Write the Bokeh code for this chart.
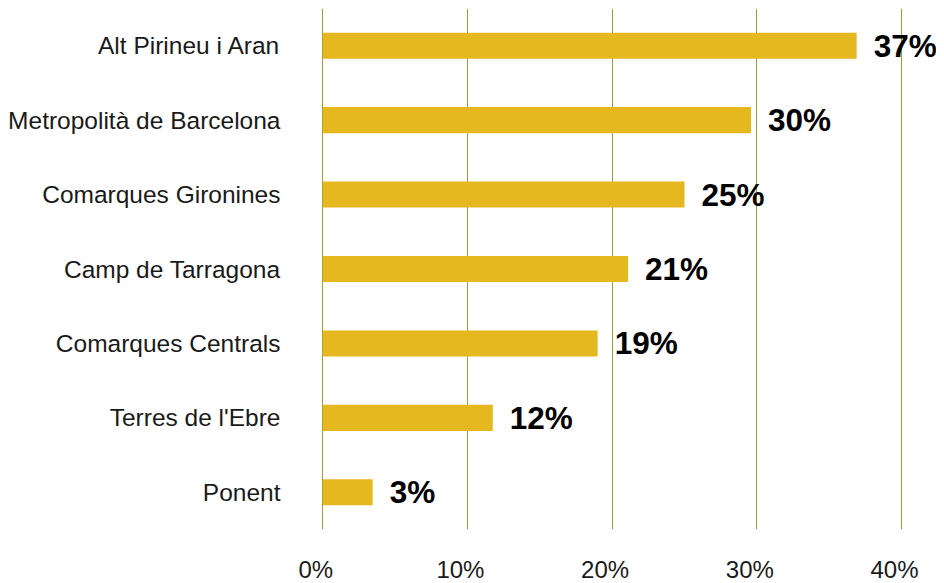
from bokeh.plotting import figure
from bokeh.models import ColumnDataSource, FactorRange, Range1d, LinearAxis, FixedTicker
from bokeh.core.properties import value
from bokeh.embed import file_html
from bokeh.resources import INLINE

regions = ["Alt Pirineu i Aran", "Metropolità de Barcelona", "Comarques Gironines",
           "Camp de Tarragona", "Comarques Centrals", "Terres de l'Ebre", "Ponent"]
values = [36.9, 29.6, 25.0, 21.1, 19.0, 11.75, 3.45]
labels = ["37%", "30%", "25%", "21%", "19%", "12%", "3%"]
ticks = [0, 10, 20, 30, 40]
tick_labels = ["0%", "10%", "20%", "30%", "40%"]

FONT = "Liberation Sans"
PX_PER_UNIT = 14.47
X_START = -0.5
FRAME_LEFT = 322 + X_START * PX_PER_UNIT
BORDER_LEFT = int(round(FRAME_LEFT))
FRAME_W = 936 - BORDER_LEFT
X_END = X_START + FRAME_W / PX_PER_UNIT
SHIFT = 7 / PX_PER_UNIT

src = ColumnDataSource(dict(region=regions, val=values, lab=labels))

p = figure(y_range=FactorRange(factors=list(reversed(regions))),
           x_range=Range1d(X_START, X_END),
           frame_width=FRAME_W, frame_height=521,
           min_border_left=BORDER_LEFT, min_border_right=0, min_border_top=8,
           output_backend="svg", toolbar_location=None)

p.hbar(y="region", right="val", left=0, height=0.35, source=src,
       fill_color="#E6B820", line_color=None)

p.text(x="val", y="region", text="lab", source=src, x_offset=17,
       text_baseline="middle", text_align="left",
       text_font=value(FONT), text_font_style="bold", text_font_size="31.5px",
       text_color="#000000")

p.outline_line_color = None
p.background_fill_color = "white"
p.border_fill_color = "white"

p.xaxis.visible = False
p.xgrid.ticker = FixedTicker(ticks=ticks)
p.xgrid.grid_line_color = "#a29c35"
p.xgrid.grid_line_width = 1
p.ygrid.grid_line_color = None

p.extra_x_ranges = {"lab": Range1d(X_START + SHIFT, X_END + SHIFT)}
ax = LinearAxis(x_range_name="lab", ticker=FixedTicker(ticks=ticks),
                major_label_overrides={t: l for t, l in zip(ticks, tick_labels)})
ax.axis_line_color = None
ax.major_tick_line_color = None
ax.minor_tick_line_color = None
ax.major_tick_out = 0
ax.major_tick_in = 0
ax.major_label_standoff = 26
ax.major_label_text_font = FONT
ax.major_label_text_font_size = "24px"
ax.major_label_text_color = "#1a1a1a"
p.add_layout(ax, "below")

ya = p.yaxis[0]
ya.axis_line_color = None
ya.major_tick_line_color = None
ya.minor_tick_line_color = None
ya.major_tick_out = 0
ya.major_tick_in = 0
ya.major_label_standoff = BORDER_LEFT - 280
ya.major_label_text_font = FONT
ya.major_label_text_font_size = "24.5px"
ya.major_label_text_color = "#1a1a1a"

open("out.html", "w").write(file_html(p, INLINE))
